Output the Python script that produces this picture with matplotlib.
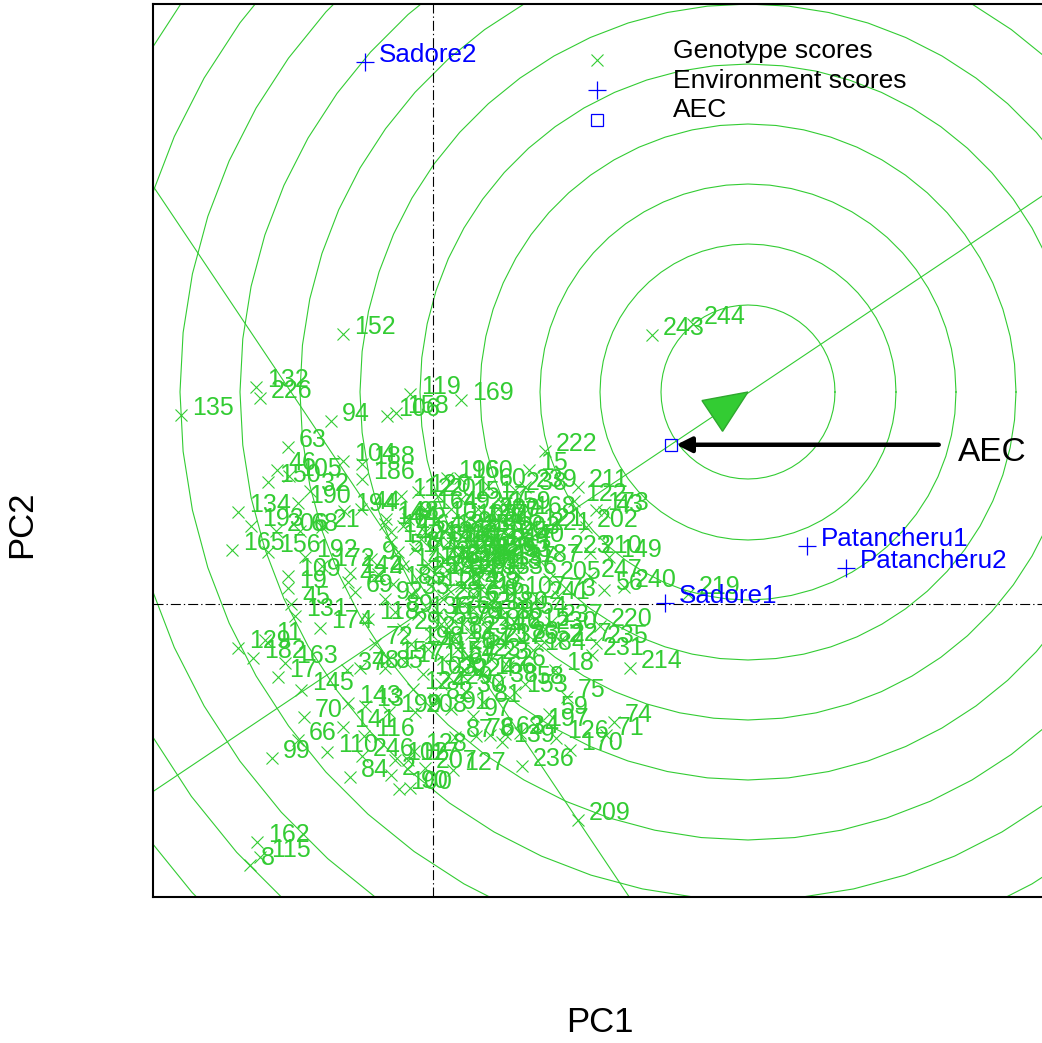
import matplotlib
matplotlib.use("Agg")
import numpy as np
import matplotlib.pyplot as plt
from matplotlib.patches import Polygon

plt.rcParams['font.family'] = ['Liberation Sans', 'DejaVu Sans']

GREEN = '#33CC33'
BLUE = '#0000FF'

# genotype scores on the first two principal components
gen_labels = [
    152, 132, 226, 135, 94, 106, 158, 119, 169, 63,
    46, 150, 105, 32, 190, 134, 193, 165, 156, 104,
    188, 186, 196, 160, 112, 120, 194, 148, 68, 21,
    206, 222, 15, 211, 122, 173, 43, 202, 221, 223,
    210, 149, 53, 238, 239, 240, 56, 73, 205, 247,
    237, 220, 52, 227, 235, 184, 231, 214, 18, 75,
    58, 59, 197, 74, 71, 126, 170, 236, 139, 87,
    78, 6, 62, 34, 127, 207, 128, 100, 90, 209,
    70, 66, 99, 110, 246, 84, 2, 102, 117, 116,
    141, 143, 13, 199, 208, 109, 19, 45, 131, 129,
    11, 182, 174, 163, 17, 145, 37, 48, 85, 243,
    244, 162, 8, 115, 192, 172, 142, 69, 219, 144,
    61, 140,
    1, 3, 4, 5, 7, 9, 10, 12, 14, 16,
    20, 22, 23, 24, 25, 26, 27, 28, 29, 30,
    31, 33, 35, 36, 38, 39, 40, 41, 42, 44,
    47, 49, 50, 51, 54, 55, 57, 60, 64, 65,
    67, 72, 76, 77, 79, 80, 81, 82, 83, 86,
    88, 89, 91, 92, 93, 95, 96, 97, 98, 101,
    103, 107, 108, 111, 113, 114, 118, 121, 123, 124,
    125, 130, 133, 136, 137, 138, 146, 147, 151, 153,
    154, 155, 157, 159, 161, 164, 166, 167, 168, 171,
    175, 176, 177, 178, 179, 180, 181, 183, 185, 187,
    189, 191, 195, 198, 200, 201, 203, 204, 212, 213,
    215, 216, 217, 218, 224, 225, 228, 229, 230, 232,
    233, 234, 241, 242, 245,
]
gen_pc1 = [
    -0.90, -1.77, -1.73, -2.52, -1.02, -0.46, -0.37, -0.23, 0.28, -1.45,
    -1.56, -1.65, -1.44, -1.23, -1.35, -1.95, -1.82, -2.01, -1.65, -0.90,
    -0.71, -0.71, 0.14, 0.27, -0.32, -0.15, -0.89, -0.47, -1.33, -1.11,
    -1.57, 1.12, 0.96, 1.45, 1.41, 1.63, 1.71, 1.53, 1.06, 1.26,
    1.57, 1.76, 0.80, 0.82, 0.92, 1.91, 1.71, 1.25, 1.16, 1.57,
    1.18, 1.67, 1.11, 1.27, 1.63, 1.00, 1.59, 1.97, 1.22, 1.34,
    0.92, 1.16, 1.03, 1.81, 1.73, 1.23, 1.37, 0.89, 0.69, 0.22,
    0.43, 0.57, 0.72, 0.87, 0.20, -0.08, -0.19, -0.34, -0.23, 1.45,
    -1.29, -1.35, -1.61, -1.06, -0.71, -0.83, -0.42, -0.38, -0.25, -0.69,
    -0.90, -0.85, -0.68, -0.44, -0.18, -1.45, -1.45, -1.42, -1.38, -1.95,
    -1.68, -1.80, -1.13, -1.48, -1.55, -1.32, -0.86, -0.73, -0.48, 2.19,
    2.60, -1.76, -1.83, -1.73, -1.28, -1.11, -0.83, -0.78, 2.55, -0.48,
    -0.30, -0.42,
    0.35, 0.12, -0.55, 0.62, 0.70, -0.62, 0.05, 0.22, -0.42, 0.48,
    0.15, 0.40, 0.58, 0.28, -0.12, 0.75, 0.45, 0.10, -0.30, 0.33,
    0.05, 0.52, -0.22, 0.85, 0.66, 0.20, 0.92, -0.05, -0.85, -0.72,
    0.38, 0.18, 0.60, -0.35, 0.95, 0.08, 0.42, 0.55, -0.08, 0.78,
    0.25, -0.58, 0.12, 0.68, 0.30, -0.18, 0.50, 0.02, 0.88, 0.72,
    0.38, -0.38, 0.18, -0.48, 0.60, -0.25, 0.08, 0.40, 0.48, 0.25,
    -0.10, 0.80, 0.32, -0.02, 0.58, 0.15, -0.65, 0.98, 0.35, -0.20,
    0.62, 0.20, 0.45, -0.15, 0.70, 0.02, 0.55, -0.30, 0.28, 0.82,
    0.10, 0.38, -0.45, 0.65, 0.28, -0.08, 0.50, 0.22, 0.90, -0.28,
    0.72, 0.05, 0.42, -0.05, 0.18, 0.62, 0.35, 0.12, -0.40, 0.95,
    0.48, 0.02, 0.30, -0.22, 0.55, 0.05, 0.75, 0.25, 0.15, -0.12,
    0.85, 0.40, 0.68, -0.02, 0.30, 0.52, 0.22, 0.08, 1.12, 0.60,
    0.45, 0.38, 1.05, 0.32, 0.58,
]
gen_pc2 = [
    2.70, 2.17, 2.06, 1.89, 1.83, 1.88, 1.91, 2.10, 2.04, 1.57,
    1.34, 1.22, 1.28, 1.13, 1.01, 0.92, 0.78, 0.54, 0.52, 1.43,
    1.40, 1.25, 1.26, 1.26, 1.08, 1.12, 0.93, 0.85, 0.73, 0.77,
    0.73, 1.53, 1.34, 1.17, 1.03, 0.94, 0.92, 0.77, 0.74, 0.51,
    0.51, 0.47, 0.47, 1.14, 1.17, 0.17, 0.14, 0.08, 0.25, 0.27,
    -0.18, -0.22, -0.38, -0.37, -0.39, -0.46, -0.51, -0.64, -0.66, -0.93,
    -0.80, -1.10, -1.22, -1.18, -1.31, -1.34, -1.46, -1.62, -1.38, -1.33,
    -1.32, -1.31, -1.30, -1.29, -1.66, -1.64, -1.47, -1.85, -1.84, -2.16,
    -1.13, -1.36, -1.54, -1.48, -1.52, -1.73, -1.71, -1.56, -1.56, -1.32,
    -1.23, -0.99, -1.02, -1.08, -1.08, 0.28, 0.16, 0.00, -0.12, -0.44,
    -0.36, -0.54, -0.24, -0.59, -0.73, -0.86, -0.66, -0.64, -0.64, 2.69,
    2.80, -2.38, -2.61, -2.53, 0.47, 0.38, 0.31, 0.12, 0.10, 0.80,
    0.78, 0.62,
    0.62, 0.45, 0.30, 0.20, 1.00, 0.45, 0.85, -0.35, 0.72, 0.40,
    -0.72, -0.05, -0.55, 0.18, 0.30, -0.62, 0.95, 0.05, -0.25, -0.88,
    0.62, 0.72, 0.10, 0.30, -0.78, 0.75, 0.62, -0.45, 0.22, 0.95,
    0.28, 0.95, 0.50, 0.52, -0.10, -0.20, -0.42, 1.18, 0.72, 0.52,
    -0.60, -0.40, 0.28, 0.85, -0.20, 0.55, -0.98, -0.95, -0.35, -0.15,
    0.48, -0.08, -1.05, 0.05, 0.02, 0.85, 0.40, -1.12, 0.15, 0.50,
    -0.70, 0.10, 0.82, 0.18, 0.35, 0.62, -0.15, 0.78, -0.52, -0.85,
    0.65, 0.35, 0.58, -0.10, 0.40, 0.55, -0.25, 0.38, 1.05, -0.88,
    -0.55, 0.72, -0.55, 0.95, 0.02, 0.95, -0.70, 0.58, 0.90, -0.58,
    -0.40, -0.10, 0.82, 0.40, -0.15, -0.05, 0.38, 0.72, 0.20, 0.42,
    -0.15, 0.30, 0.68, -0.40, 0.88, 1.08, 0.70, -0.45, 0.15, 0.65,
    -0.22, 0.10, 0.58, -0.30, -0.72, 0.48, 0.42, -0.80, -0.25, -0.38,
    0.30, -0.30, 0.05, 0.52, 0.78,
]

# environment scores
env_labels = ['Sadore2', 'Patancheru1', 'Patancheru2', 'Sadore1']
env_pc1 = [-0.68, 3.74, 4.13, 2.32]
env_pc2 = [5.42, 0.58, 0.36, 0.01]

# ideal genotype on the AEC abscissa and the concentric rings round it
ideal_pc1, ideal_pc2 = 3.15, 2.12
ring_radii = [0.87, 1.48, 2.08, 2.68, 3.28, 3.88, 4.48, 5.08, 5.68, 6.28, 6.88, 7.48]

fig = plt.figure(figsize=(10.42, 10.43), dpi=100)
ax = fig.add_axes([0.14683, 0.13998, 0.85509, 0.85618])
ax.set_xlim(-2.80, 6.11)
ax.set_ylim(-2.93, 6.00)
ax.set_xticks([])
ax.set_yticks([])
for s in ax.spines.values():
    s.set_linewidth(1.5)

# average environment coordinate
aec_x = np.mean(env_pc1)
aec_y = np.mean(env_pc2)

# rings
theta = np.linspace(0, 2 * np.pi, 61)
for r in ring_radii:
    ax.plot(ideal_pc1 + r * np.cos(theta), ideal_pc2 + r * np.sin(theta),
            color=GREEN, lw=0.8, zorder=1)

# AEC abscissa and ordinate through the origin
ax.axline((0, 0), (aec_x, aec_y), color=GREEN, lw=0.8, zorder=1)
ax.axline((0, 0), (-aec_y, aec_x), color=GREEN, lw=0.8, zorder=1)

# arrow head on the abscissa
u = np.array([aec_x, aec_y]) / np.hypot(aec_x, aec_y)
n = np.array([-u[1], u[0]])
tip = np.array([ideal_pc1, ideal_pc2])
base = tip - 0.43 * u
tri = Polygon([tip, base + 0.185 * n, base - 0.185 * n], closed=True,
              facecolor=GREEN, edgecolor='#2EA82E', lw=1, zorder=3)
ax.add_patch(tri)

# axes through origin
dash = (0, (9, 2.7, 1.2, 2.7))
ax.axhline(0, color='black', lw=0.8, linestyle=dash, zorder=2)
ax.axvline(0, color='black', lw=0.8, linestyle=dash, zorder=2)

# genotypes
ax.plot(gen_pc1, gen_pc2, linestyle='none', marker='x', ms=9, mew=0.8,
        color=GREEN, zorder=4)
for lab, x, y in zip(gen_labels, gen_pc1, gen_pc2):
    ax.annotate(str(lab), (x, y), xytext=(8, 0), textcoords='offset points',
                ha='left', va='baseline', fontsize=18, color=GREEN, zorder=5)

# environments
ax.plot(env_pc1, env_pc2, linestyle='none', marker='+', ms=13, mew=0.9,
        color=BLUE, zorder=6)
for lab, x, y in zip(env_labels, env_pc1, env_pc2):
    ax.annotate(lab, (x, y), xytext=(10, 0), textcoords='offset points',
                ha='left', va='baseline', fontsize=18.7, color=BLUE, zorder=7)

# AEC point with pointer
ax.plot([aec_x], [aec_y], linestyle='none', marker='s', ms=8, mew=0.9,
        mfc='none', mec=BLUE, zorder=6)
ax.annotate('', xy=(aec_x, aec_y), xytext=(aec_x + 2.68, aec_y),
            arrowprops=dict(arrowstyle='-|>,head_length=0.9,head_width=0.45',
                            lw=3.2, color='black', shrinkA=0, shrinkB=4),
            zorder=8)
ax.text(aec_x + 2.87, aec_y - 0.16, 'AEC', fontsize=24, ha='left',
        va='baseline', color='black', zorder=8)

# legend
ax.plot([0.498], [0.937], transform=ax.transAxes, marker='x', ms=9, mew=0.8,
        color=GREEN, linestyle='none')
ax.plot([0.498], [0.904], transform=ax.transAxes, marker='+', ms=13, mew=0.9,
        color=BLUE, linestyle='none')
ax.plot([0.498], [0.870], transform=ax.transAxes, marker='s', ms=8, mew=0.9,
        mfc='none', mec=BLUE, linestyle='none')
for yy, txt in zip([0.940, 0.906, 0.873],
                   ['Genotype scores', 'Environment scores', 'AEC']):
    ax.text(0.584, yy, txt, transform=ax.transAxes, fontsize=19,
            ha='left', va='baseline', color='black')

fig.text(0.576, 0.020, 'PC1', fontsize=25, ha='center', va='center')
fig.text(0.021, 0.497, 'PC2', fontsize=25, ha='center', va='center',
         rotation=90)

fig.savefig('out.png', dpi=100)
